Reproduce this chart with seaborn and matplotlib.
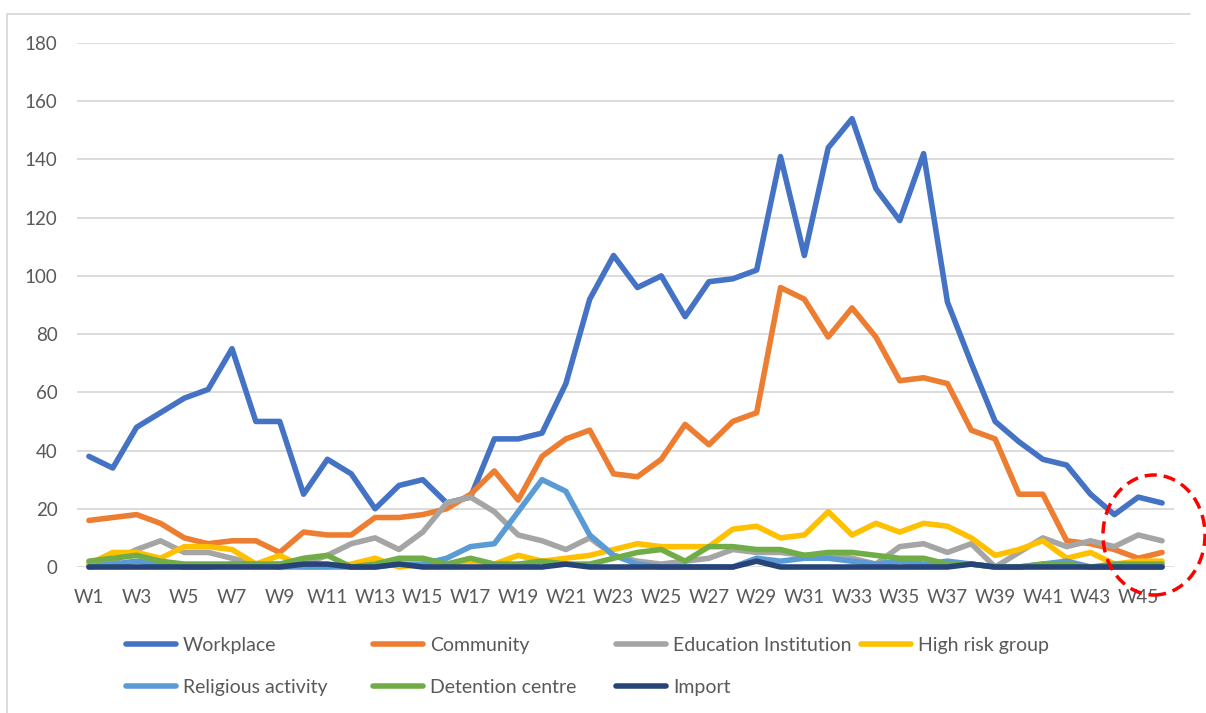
import numpy as np
import pandas as pd
import matplotlib
matplotlib.use("Agg")
import matplotlib.pyplot as plt
from matplotlib.lines import Line2D
from matplotlib.patches import Ellipse
import seaborn as sns

weeks = [f"W{i}" for i in range(1, 47)]

workplace = [38, 34, 48, 53, 58, 61, 75, 50, 50, 25, 37, 32, 20, 28, 30, 22, 24, 44, 44, 46,
             63, 92, 107, 96, 100, 86, 98, 99, 102, 141, 107, 144, 154, 130, 119, 142, 91, 70,
             50, 43, 37, 35, 25, 18, 24, 22]
community = [16, 17, 18, 15, 10, 8, 9, 9, 5, 12, 11, 11, 17, 17, 18, 20, 25, 33, 23, 38,
             44, 47, 32, 31, 37, 49, 42, 50, 53, 96, 92, 79, 89, 79, 64, 65, 63, 47,
             44, 25, 25, 9, 8, 6, 3, 5]
education = [1, 2, 6, 9, 5, 5, 3, 1, 1, 1, 4, 8, 10, 6, 12, 22, 24, 19, 11, 9,
             6, 10, 4, 2, 1, 2, 3, 6, 5, 5, 4, 4, 3, 1, 7, 8, 5, 8,
             0, 5, 10, 7, 9, 7, 11, 9]
high_risk = [1, 5, 5, 3, 7, 7, 6, 1, 4, 0, 0, 1, 3, 0, 1, 1, 2, 1, 4, 2,
             3, 4, 6, 8, 7, 7, 7, 13, 14, 10, 11, 19, 11, 15, 12, 15, 14, 10,
             4, 6, 9, 3, 5, 1, 2, 2]
religious = [0, 1, 2, 1, 0, 0, 1, 1, 0, 0, 0, 0, 0, 1, 1, 3, 7, 8, 19, 30,
             26, 11, 4, 1, 0, 0, 0, 0, 3, 2, 3, 3, 2, 1, 2, 1, 2, 1,
             0, 0, 1, 2, 0, 0, 0, 0]
detention = [2, 3, 4, 2, 1, 1, 1, 1, 1, 3, 4, 0, 1, 3, 3, 1, 3, 1, 1, 2,
             1, 1, 3, 5, 6, 2, 7, 7, 6, 6, 4, 5, 5, 4, 3, 3, 1, 1,
             0, 0, 1, 1, 0, 1, 1, 1]
imported = [0, 0, 0, 0, 0, 0, 0, 0, 0, 1, 1, 0, 0, 1, 0, 0, 0, 0, 0, 0,
            1, 0, 0, 0, 0, 0, 0, 0, 2, 0, 0, 0, 0, 0, 0, 0, 0, 1,
            0, 0, 0, 0, 0, 0, 0, 0]

series = {
    "Workplace": workplace,
    "Community": community,
    "Education Institution": education,
    "High risk group": high_risk,
    "Religious activity": religious,
    "Detention centre": detention,
    "Import": imported,
}
colors = ["#4472C4", "#ED7D31", "#A5A5A5", "#FFC000", "#5B9BD5", "#70AD47", "#264478"]
names = list(series.keys())

rows = []
for name, vals in series.items():
    for i, v in enumerate(vals):
        rows.append({"idx": i, "week": weeks[i], "count": v, "source": name})
df = pd.DataFrame(rows)

sns.set_style("white")
plt.rcParams["font.family"] = ["Lato", "DejaVu Sans"]

fig = plt.figure(figsize=(12.06, 7.13), dpi=100)
ax = fig.add_axes([77 / 1206, 1 - 567 / 713, (1174 - 77) / 1206, (567 - 43) / 713])

sns.lineplot(data=df, x="idx", y="count", hue="source", hue_order=names,
             palette=colors, linewidth=4, legend=False, ax=ax,
             solid_capstyle="round", solid_joinstyle="round")
for ln in ax.get_lines():
    ln.set_clip_on(False)

ax.set_xlim(-0.5, len(weeks) - 0.5)
ax.set_ylim(0, 180)
ax.set_yticks(range(0, 181, 20))
ax.set_xticks(range(0, len(weeks), 2))
ax.set_xticklabels(weeks[::2])
ax.set_xlabel("")
ax.set_ylabel("")
ax.grid(axis="y", color="#D9D9D9", linewidth=1.3)
ax.set_axisbelow(True)
for s in ax.spines.values():
    s.set_visible(False)
ax.tick_params(axis="both", length=0, labelsize=13.5, colors="#595959")
ax.tick_params(axis="y", pad=14)
ax.tick_params(axis="x", pad=16)

# chart border (left and top)
fig.add_artist(Line2D([7 / 1206, 7 / 1206], [0, 1 - 14 / 713], color="#D9D9D9", lw=1.3))
fig.add_artist(Line2D([7 / 1206, 1190 / 1206], [1 - 14 / 713, 1 - 14 / 713], color="#D9D9D9", lw=1.3))

# red dashed annotation circle
fig.add_artist(Ellipse((1154 / 1206, 1 - 535 / 713), 102 / 1206, 120 / 713,
                       fill=False, edgecolor="#FF0000", lw=2.5, linestyle=(0, (3.5, 2))))

# legend columns placed like the original
handles = [Line2D([], [], color=c, lw=4, solid_capstyle="round") for c in colors]
col_x = [116, 363, 606, 851]
cols = [[0, 4], [1, 5], [2, 6], [3]]
for cx, members in zip(col_x, cols):
    fig.legend([handles[m] for m in members], [names[m] for m in members],
               loc="upper left", bbox_to_anchor=(cx / 1206, 1 - 627 / 713),
               frameon=False, fontsize=14, handlelength=2.6, handletextpad=0.35,
               labelspacing=1.3, borderpad=0, labelcolor="#595959")

fig.savefig("out.png", dpi=100)
